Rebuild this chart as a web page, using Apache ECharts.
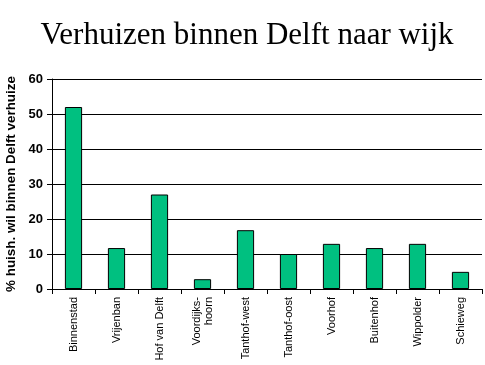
<!DOCTYPE html>
<html><head><meta charset="utf-8">
<script src="https://cdn.jsdelivr.net/npm/echarts@6/dist/echarts.min.js"></script>
<style>html,body{margin:0;padding:0;background:#fff}#c{width:485px;height:365px}</style>
</head><body><div id="c"></div>
<script>
const categories = ['Binnenstad','Vrijenban','Hof van Delft','Voordijks-\nhoorn','Tanthof-west','Tanthof-oost','Voorhof','Buitenhof','Wippolder','Schieweg'];
const values = [52, 11.7, 27, 2.8, 16.8, 10, 12.9, 11.7, 12.9, 4.9];
const yTicks = [0, 10, 20, 30, 40, 50, 60];
const title = 'Verhuizen binnen Delft naar wijk';
const yName = '% huish. wil binnen Delft verhuize';

const chart = echarts.init(document.getElementById('c'));
chart.setOption({
  animation: false,
  backgroundColor: '#fff',
  title: {text: title, left: 242, textAlign: 'center', top: 15,
    textStyle: {fontFamily: 'Liberation Serif', fontSize: 31, fontWeight: 'normal', color: '#000'}},
  grid: {left: 52, right: 3, top: 79, bottom: 76, containLabel: false, outerBoundsMode: 'none'},
  xAxis: {type: 'category', data: categories,
    axisLine: {lineStyle: {color: '#000', width: 1}},
    axisTick: {show: true, length: 5, lineStyle: {color: '#000'}},
    axisLabel: {rotate: 90, interval: 0, margin: 8, fontFamily: 'Liberation Sans', fontSize: 11, color: '#000', lineHeight: 12}},
  yAxis: {type: 'value', min: yTicks[0], max: yTicks[yTicks.length-1], interval: 10,
    name: yName, nameLocation: 'middle', nameGap: 32, nameRotate: 90,
    nameTextStyle: {fontFamily: 'Liberation Sans', fontSize: 13.4, fontWeight: 'bold', color: '#000'},
    axisLine: {show: true, lineStyle: {color: '#000', width: 1}},
    axisTick: {show: true, length: 5, lineStyle: {color: '#000'}},
    axisLabel: {fontFamily: 'Liberation Sans', fontSize: 13, fontWeight: 'bold', color: '#000', margin: 9},
    splitLine: {lineStyle: {color: '#000', width: 1}}},
  series: [{type: 'bar', data: values, barWidth: '40%',
    itemStyle: {color: '#00C080', borderColor: '#000', borderWidth: 1}}]
});
</script></body></html>
